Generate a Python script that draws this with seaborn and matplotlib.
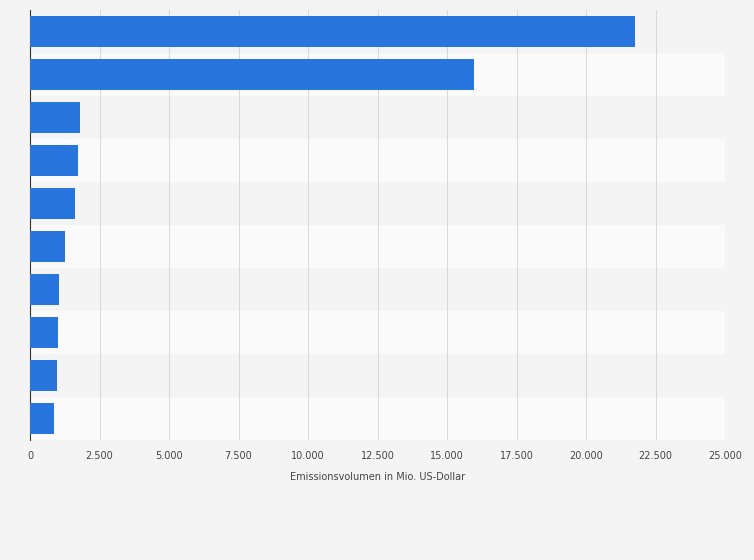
import matplotlib
matplotlib.use("Agg")
import matplotlib.pyplot as plt
import seaborn as sns
import pandas as pd

categories = ["1", "2", "3", "4", "5", "6", "7", "8", "9", "10"]
values = [21750, 15970, 1800, 1730, 1620, 1260, 1040, 1010, 970, 870]
xticks = [0, 2500, 5000, 7500, 10000, 12500, 15000, 17500, 20000, 22500, 25000]
xticklabels = ["0", "2.500", "5.000", "7.500", "10.000", "12.500", "15.000", "17.500", "20.000", "22.500", "25.000"]

df = pd.DataFrame({"cat": categories, "val": values})

fig = plt.figure(figsize=(7.54, 5.6), dpi=100, facecolor="#f4f4f4")
ax = fig.add_axes([30/754, 1-440/560, 695/754, 430/560])
ax.set_facecolor("#f4f4f4")
for i in range(len(categories)):
    ax.axhspan(i - 0.5, i + 0.5, color="#f4f4f4" if i % 2 == 0 else "#fafafa", zorder=0, lw=0)
sns.barplot(data=df, x="val", y="cat", color="#2876dd", width=0.7, ax=ax, zorder=3, saturation=1)
ax.set_xlim(0, 25000)
ax.set_ylim(len(categories) - 0.5, -0.5)
ax.set_xticks(xticks)
ax.set_xticklabels(xticklabels, fontsize=7, color="#444444")
ax.set_yticks([])
ax.set_ylabel("")
ax.set_xlabel("Emissionsvolumen in Mio. US-Dollar", fontsize=7, color="#444444", labelpad=8)
ax.grid(axis="x", color="#d8d8d8", lw=0.7, ls="-", zorder=1)
ax.tick_params(axis="x", length=0, pad=8)
for s in ["top", "right", "bottom"]:
    ax.spines[s].set_visible(False)
ax.spines["left"].set_color("#333333")
ax.spines["left"].set_linewidth(0.8)
fig.savefig("out.png", dpi=100, facecolor=fig.get_facecolor())
